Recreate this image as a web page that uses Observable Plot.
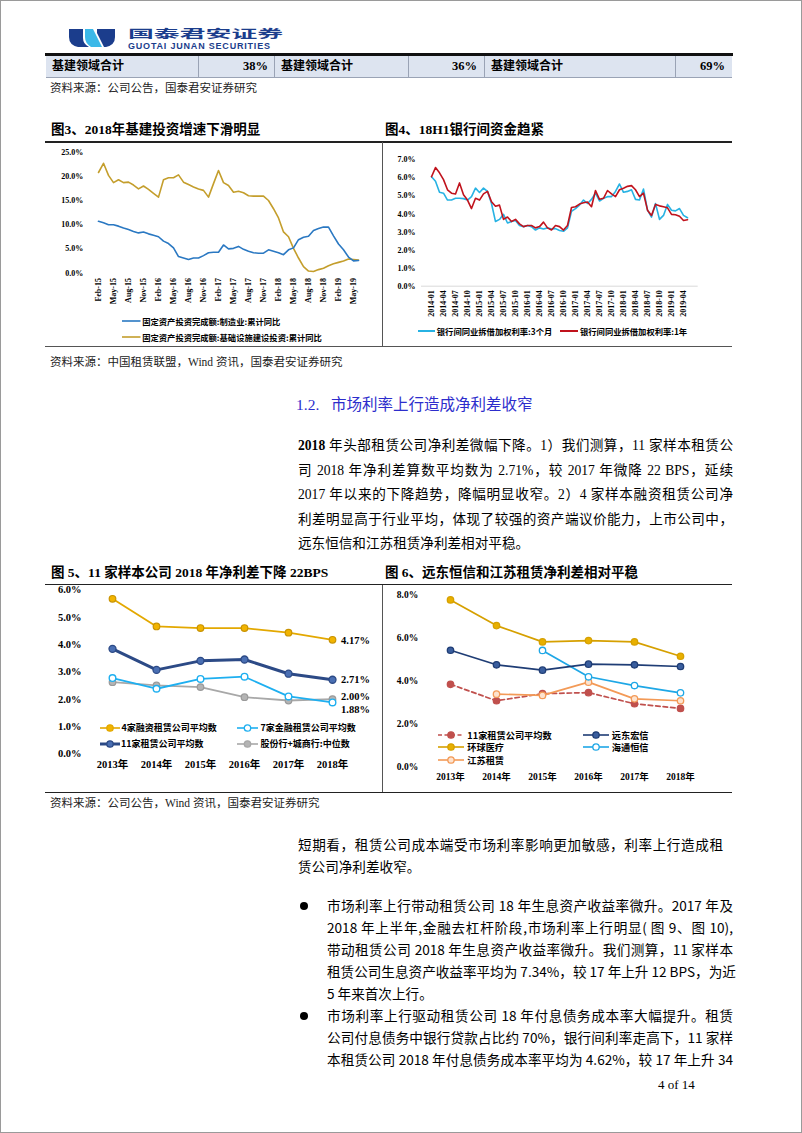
<!DOCTYPE html>
<html><head><meta charset="utf-8">
<script src="https://cdn.jsdelivr.net/npm/d3@7"></script>
<script src="https://cdn.jsdelivr.net/npm/@observablehq/plot@0.6"></script>
<style>
body{margin:0;background:#fff;}
#page{position:relative;width:802px;height:1133px;overflow:hidden;background:#fff;font-family:'Noto Sans CJK SC',sans-serif;color:#000;}
svg{overflow:visible}
</style></head><body><div id="page"></div>
<script>
// ---------------- DATA ----------------
const tableLabels = ["基建领域合计", "基建领域合计", "基建领域合计"];
const tableValues = ["38%", "36%", "69%"];

const c3Months = ["Feb-15","Mar-15","Apr-15","May-15","Jun-15","Jul-15","Aug-15","Sep-15","Oct-15","Nov-15","Dec-15","Jan-16","Feb-16","Mar-16","Apr-16","May-16","Jun-16","Jul-16","Aug-16","Sep-16","Oct-16","Nov-16","Dec-16","Jan-17","Feb-17","Mar-17","Apr-17","May-17","Jun-17","Jul-17","Aug-17","Sep-17","Oct-17","Nov-17","Dec-17","Jan-18","Feb-18","Mar-18","Apr-18","May-18","Jun-18","Jul-18","Aug-18","Sep-18","Oct-18","Nov-18","Dec-18","Jan-19","Feb-19","Mar-19","Apr-19","May-19","Jun-19"];
const c3Ticks = ["Feb-15","May-15","Aug-15","Nov-15","Feb-16","May-16","Aug-16","Nov-16","Feb-17","May-17","Aug-17","Nov-17","Feb-18","May-18","Aug-18","Nov-18","Feb-19","May-19"];
const c3Manufacturing = [10.7,10.4,10.0,10.0,9.7,9.3,9.0,8.6,8.3,8.5,8.1,7.8,7.5,6.6,6.1,5.2,3.4,3.1,2.8,3.1,3.1,3.6,4.2,4.3,4.3,5.8,5.0,5.1,5.5,4.9,4.5,4.2,4.1,4.1,4.8,4.5,4.2,3.8,4.8,5.2,6.9,7.4,7.6,8.8,9.2,9.5,9.5,7.7,6.0,4.8,3.3,2.5,2.6];
const c3Infrastructure = [20.8,22.7,20.2,18.7,19.3,18.7,18.8,18.2,17.4,18.0,17.3,16.5,15.7,19.3,19.7,19.7,20.3,18.8,18.3,17.8,17.4,17.1,15.7,18.5,21.2,18.7,18.1,16.7,16.9,16.6,16.0,15.9,15.9,15.9,15.0,13.3,11.4,8.5,7.5,5.1,3.1,1.3,0.4,0.3,0.7,1.0,1.5,1.9,2.2,2.5,2.9,2.8,2.7];
const c3Series = ["固定资产投资完成额:制造业:累计同比", "固定资产投资完成额:基础设施建设投资:累计同比"];

const c4Months = ["2014-01","2014-02","2014-03","2014-04","2014-05","2014-06","2014-07","2014-08","2014-09","2014-10","2014-11","2014-12","2015-01","2015-02","2015-03","2015-04","2015-05","2015-06","2015-07","2015-08","2015-09","2015-10","2015-11","2015-12","2016-01","2016-02","2016-03","2016-04","2016-05","2016-06","2016-07","2016-08","2016-09","2016-10","2016-11","2016-12","2017-01","2017-02","2017-03","2017-04","2017-05","2017-06","2017-07","2017-08","2017-09","2017-10","2017-11","2017-12","2018-01","2018-02","2018-03","2018-04","2018-05","2018-06","2018-07","2018-08","2018-09","2018-10","2018-11","2018-12","2019-01","2019-02","2019-03","2019-04","2019-05"];
const c4Ticks = ["2014-01","2014-04","2014-07","2014-10","2015-01","2015-04","2015-07","2015-10","2016-01","2016-04","2016-07","2016-10","2017-01","2017-04","2017-07","2017-10","2018-01","2018-04","2018-07","2018-10","2019-01","2019-04"];
const c4Rate3M = [6.06,5.81,5.2,5.15,4.77,4.77,4.87,4.87,4.85,4.77,4.96,5.43,5.19,5.43,5.25,4.58,3.58,3.7,3.98,3.5,3.58,3.64,3.36,3.3,3.36,3.3,3.11,3.23,3.17,3.23,3.17,3.19,3.08,3.04,3.23,4.15,4.3,4.49,4.77,4.58,4.81,5.15,4.72,4.87,4.96,4.96,5.25,5.66,5.2,5.25,5.34,4.81,4.77,5.38,4.21,3.83,4.58,3.7,3.92,4.53,4.21,4.17,4.3,3.92,3.79];
const c4Rate1Y = [6.06,6.57,6.28,5.9,5.34,5.15,5.11,5.72,5.06,4.77,4.3,4.87,4.77,5.11,5.25,4.68,4.43,4.49,3.7,3.83,3.58,3.7,3.45,3.3,3.36,3.36,3.23,3.3,3.55,3.23,3.11,3.36,3.3,3.11,3.36,4.36,4.4,4.55,4.62,4.66,4.4,5.3,4.81,4.87,5.3,5.11,4.96,5.34,5.43,5.53,5.57,5.34,4.96,5.15,4.21,3.92,4.53,4.45,4.4,4.34,3.98,3.96,3.87,3.64,3.68];
const c4Series = ["银行间同业拆借加权利率:3个月", "银行间同业拆借加权利率:1年"];

const years = ["2013年","2014年","2015年","2016年","2017年","2018年"];
const c5Financing4 = [5.67,4.66,4.60,4.60,4.43,4.17];
const c5Financial7 = [2.77,2.38,2.74,2.82,2.10,1.88];
const c5Average11 = [3.84,3.07,3.40,3.45,2.93,2.71];
const c5BankMedian = [2.62,2.50,2.44,2.07,1.95,2.00];
const c5Series = ["4家融资租赁公司平均数", "7家金融租赁公司平均数", "11家租赁公司平均数", "股份行+城商行:中位数"];

const c6Average11 = [3.84,3.07,3.40,3.45,2.93,2.71];
const c6FarEast = [5.43,4.75,4.50,4.78,4.75,4.67];
const c6Universal = [7.78,6.58,5.82,5.88,5.82,5.15];
const c6Haitong = [null,null,5.42,4.19,3.78,3.44];
const c6Jiangsu = [null,3.38,3.32,3.94,3.16,3.07];
const c6Series = ["11家租赁公司平均数", "远东宏信", "环球医疗", "海通恒信", "江苏租赁"];

// ---------------- HELPERS ----------------
const page = document.getElementById("page");
function el(tag, css, html) { const e = document.createElement(tag); e.style.cssText = css; if (html != null) e.innerHTML = html; page.appendChild(e); return e; }
function hline(x1, x2, y, w, c) { el("div", `position:absolute;left:${x1}px;top:${y - w/2}px;width:${x2 - x1}px;height:${w}px;background:${c}`); }
function vline(x, y1, y2, w, c) { el("div", `position:absolute;left:${x - w/2}px;top:${y1}px;width:${w}px;height:${y2 - y1}px;background:${c}`); }
function text(str, x, y, fs, css = "", lh = 1.3) { return el("div", `position:absolute;left:${x}px;top:${y - fs*lh/2}px;font-size:${fs}px;line-height:${fs*lh}px;white-space:nowrap;${css}`, str); }
function textR(str, xr, y, fs, css = "") { return el("div", `position:absolute;right:${802 - xr}px;top:${y - fs*0.65}px;font-size:${fs}px;line-height:${fs*1.3}px;white-space:nowrap;${css}`, str); }
function jline(str, x, y, w, fs, css = "") { return el("div", `position:absolute;left:${x}px;top:${y - fs*0.7}px;width:${w}px;font-size:${fs}px;line-height:${fs*1.4}px;white-space:nowrap;text-align:justify;text-align-last:justify;${css}`, str); }
function legend(x, y, color, label, o = {}) {
  const w = o.width || 20, fs = o.fs || 9, lw = o.lw || 1.6;
  const mk = o.marker ? `<circle cx="${w/2}" cy="7" r="3.2" fill="${o.fill}" stroke="${color}" stroke-width="1.3"/>` : "";
  const dash = o.dash ? `stroke-dasharray="${o.dash}"` : "";
  el("div", `position:absolute;left:${x}px;top:${y - 7}px;height:14px;display:flex;align-items:center;white-space:nowrap`,
    `<svg width="${w}" height="14" style="display:block"><line x1="0" x2="${w}" y1="7" y2="7" stroke="${color}" stroke-width="${lw}" ${dash}/>${mk}</svg><span style="margin-left:${o.gap ?? 2}px;font-size:${fs}px;font-weight:bold;line-height:14px">${label}</span>`);
}
function place(svg, x, y) { const d = el("div", `position:absolute;left:${x}px;top:${y}px`); d.appendChild(svg); }
const axisFont = "'Liberation Serif', 'Noto Sans CJK SC', serif";
const pct1 = d => d.toFixed(1) + "%";

// ---------------- PAGE CHROME ----------------
el("div", "position:absolute;left:0;top:0;width:800px;height:1131px;border:1px solid #9a9a9a;pointer-events:none");
// logo
el("div", "position:absolute;left:69px;top:29px;width:46px;height:18px",
  `<svg width="46" height="18" viewBox="0 0 46 18" style="display:block"><path d="M0,0 H14 V9 Q14,15 20,18 H9 Q0,16 0,8 Z" fill="#1b3d8c"/><path d="M16,0 H24 L33,18 H22 Q16,14 16,8 Z" fill="#3bb8e8"/><path d="M28,0 H46 V8 Q46,16 37,18 H35 L28,4 Z" fill="#1b3d8c"/></svg>`);
text("国泰君安证券", 128, 33, 11, "font-weight:bold;color:#1b3d8c;transform:scaleX(2.35);transform-origin:left center", 1.0);
text("GUOTAI JUNAN SECURITIES", 128, 46.6, 9, "font-family:'Liberation Sans',sans-serif;font-weight:bold;color:#1b3d8c;letter-spacing:0.8px", 1.0);

// table row
el("div", "position:absolute;left:46px;top:55px;width:686px;height:22px;background:#dde4f0");
hline(45, 733, 54.5, 2.2, "#111");
hline(46, 732, 77.3, 1, "#9aa3b5");
[198.5, 274.7, 408.2, 484.4, 675.2].forEach(x => vline(x, 55.5, 77, 1, "#9aa3b5"));
const tLeft = [52, 281, 491], tRight = [268, 477, 725];
tableLabels.forEach((t, i) => text(t, tLeft[i], 66.5, 12, "font-weight:bold;font-family:'Liberation Serif','Noto Sans CJK SC'"));
tableValues.forEach((t, i) => textR(t, tRight[i], 66.5, 12.5, "font-weight:bold;font-family:'Liberation Serif'"));
text("资料来源：公司公告，国泰君安证券研究", 50, 88.5, 11.5, "color:#222;font-family:'Liberation Serif','Noto Sans CJK SC'");

// section 1 frame
text("图3、2018年基建投资增速下滑明显", 51, 130, 13.5, "font-weight:bold;font-family:'Liberation Serif','Noto Sans CJK SC'");
text("图4、18H1银行间资金趋紧", 385, 130, 13.5, "font-weight:bold;font-family:'Liberation Serif','Noto Sans CJK SC'");
hline(45, 732, 141.8, 1.6, "#222");
vline(382.5, 142, 346, 1, "#555");
hline(45, 732, 346, 1, "#555");
text("资料来源：中国租赁联盟，Wind 资讯，国泰君安证券研究", 50, 362.5, 11.5, "color:#222;font-family:'Liberation Serif','Noto Sans CJK SC'");

// ---------------- CHART 3 ----------------
const c3Rows = c3Months.flatMap((m, i) => [
  {month: m, value: c3Manufacturing[i], series: c3Series[0]},
  {month: m, value: c3Infrastructure[i], series: c3Series[1]}
]);
const c3 = Plot.plot({
  width: 335, height: 200,
  marginLeft: 46.7, marginRight: 16.1, marginTop: 6.7, marginBottom: 72.5,
  style: {fontFamily: axisFont, fontSize: "8px", fontWeight: "bold", color: "#000", background: "transparent", overflow: "visible"},
  x: {type: "point", domain: c3Months, padding: 0, label: null, tickSize: 0, tickPadding: 5, tickRotate: -90, tickFormat: d => c3Ticks.includes(d) ? d : ""},
  y: {domain: [0, 25], ticks: [0, 5, 10, 15, 20, 25], tickFormat: pct1, tickSize: 0, tickPadding: 9, label: null},
  marks: [
    Plot.line(c3Rows.filter(d => d.series === c3Series[1]), {x: "month", y: "value", stroke: "#c49e2c", strokeWidth: 1.6}),
    Plot.line(c3Rows.filter(d => d.series === c3Series[0]), {x: "month", y: "value", stroke: "#2a78c2", strokeWidth: 1.6})
  ]
});
place(c3, 45, 145);
legend(121.7, 320.7, "#2a78c2", c3Series[0], {width: 18.5, fs: 8.3, gap: 2});
legend(121.7, 336.7, "#c49e2c", c3Series[1], {width: 18.5, fs: 8.3, gap: 2});

// ---------------- CHART 4 ----------------
const c4Rows = c4Months.flatMap((m, i) => [
  {month: m, value: c4Rate3M[i], series: c4Series[0]},
  {month: m, value: c4Rate1Y[i], series: c4Series[1]}
]);
const c4 = Plot.plot({
  width: 340, height: 175,
  marginLeft: 38, marginRight: 25.3, marginTop: 14.3, marginBottom: 34.3,
  style: {fontFamily: axisFont, fontSize: "8px", fontWeight: "bold", color: "#000", background: "transparent", overflow: "visible"},
  x: {type: "point", domain: c4Months, padding: 0, label: null, tickSize: 0, tickPadding: 4, tickRotate: -90, tickFormat: d => c4Ticks.includes(d) ? d : ""},
  y: {domain: [0, 7], ticks: [0, 1, 2, 3, 4, 5, 6, 7], tickFormat: pct1, tickSize: 0, tickPadding: 6, label: null},
  marks: [
    Plot.ruleY([0], {stroke: "#d9d9d9"}),
    Plot.line(c4Rows.filter(d => d.series === c4Series[0]), {x: "month", y: "value", stroke: "#27b2e3", strokeWidth: 1.6}),
    Plot.line(c4Rows.filter(d => d.series === c4Series[1]), {x: "month", y: "value", stroke: "#c0121c", strokeWidth: 1.6})
  ]
});
place(c4, 383, 145);
legend(418.3, 331, "#27b2e3", c4Series[0], {width: 17, fs: 8.3, gap: 1.5, lw: 2});
legend(560, 331, "#c0121c", c4Series[1], {width: 18, fs: 8.3, gap: 2, lw: 2});

// ---------------- SECTION HEADING & PARAGRAPH ----------------
const serifCJK = "font-family:'Liberation Serif','Noto Sans CJK SC';";
text("1.2.&nbsp;&nbsp;&nbsp;市场利率上行造成净利差收窄", 296, 405, 15.5, serifCJK + "color:#2d2dcc");
const p1 = [
  "<b>2018</b> 年头部租赁公司净利差微幅下降。1）我们测算，11 家样本租赁公",
  "司 2018 年净利差算数平均数为 2.71%，较 2017 年微降 22 BPS，延续",
  "2017 年以来的下降趋势，降幅明显收窄。2）4 家样本融资租赁公司净",
  "利差明显高于行业平均，体现了较强的资产端议价能力，上市公司中，"
];
const p1y = [446, 470.5, 495, 519.5, 544];
p1.forEach((s, i) => jline(s, 298, p1y[i], 435, 13.6, serifCJK));
text("远东恒信和江苏租赁净利差相对平稳。", 298, p1y[4], 13.6, serifCJK);

// section 2 frame
text("图 5、11 家样本公司 2018 年净利差下降 22BPS", 51, 573, 13.5, "font-weight:bold;font-family:'Liberation Serif','Noto Sans CJK SC'");
text("图 6、远东恒信和江苏租赁净利差相对平稳", 385, 573, 13.5, "font-weight:bold;font-family:'Liberation Serif','Noto Sans CJK SC'");
hline(45, 732, 584.5, 1.6, "#222");
vline(382.5, 585, 792, 1, "#555");
hline(45, 732, 792.5, 1.4, "#222");
text("资料来源：公司公告，Wind 资讯，国泰君安证券研究", 50, 803.5, 11.5, "color:#222;font-family:'Liberation Serif','Noto Sans CJK SC'");

// ---------------- CHART 5 ----------------
const c5Rows = years.flatMap((y, i) => [
  {year: y, value: c5Financing4[i], series: c5Series[0]},
  {year: y, value: c5Financial7[i], series: c5Series[1]},
  {year: y, value: c5Average11[i], series: c5Series[2]},
  {year: y, value: c5BankMedian[i], series: c5Series[3]}
]);
const s5 = k => c5Rows.filter(d => d.series === c5Series[k]);
const last5 = k => s5(k).slice(-1);
const c5 = Plot.plot({
  width: 333, height: 200,
  marginLeft: 65, marginRight: 44.7, marginTop: 4.3, marginBottom: 31.7,
  style: {fontFamily: axisFont, fontSize: "10.5px", fontWeight: "bold", color: "#000", background: "transparent", overflow: "visible"},
  x: {type: "point", domain: years, padding: 0, label: null, tickSize: 0, tickPadding: 6.5},
  y: {domain: [0, 6], ticks: [0, 1, 2, 3, 4, 5, 6], tickFormat: pct1, tickSize: 0, tickPadding: 29, label: null},
  marks: [
    Plot.line(s5(3), {x: "year", y: "value", stroke: "#a8a8a8", strokeWidth: 1.8}),
    Plot.dot(s5(3), {x: "year", y: "value", r: 3.3, fill: "#b4b4b4", stroke: "#9a9a9a", strokeWidth: 1.2}),
    Plot.line(s5(1), {x: "year", y: "value", stroke: "#1eaff0", strokeWidth: 1.8}),
    Plot.dot(s5(1), {x: "year", y: "value", r: 3.3, fill: "#fff", stroke: "#1eaff0", strokeWidth: 1.4}),
    Plot.line(s5(2), {x: "year", y: "value", stroke: "#2c4a86", strokeWidth: 3}),
    Plot.dot(s5(2), {x: "year", y: "value", r: 3.5, fill: "#4a6fb3", stroke: "#2c4a86", strokeWidth: 1.3}),
    Plot.line(s5(0), {x: "year", y: "value", stroke: "#e3a800", strokeWidth: 1.8}),
    Plot.dot(s5(0), {x: "year", y: "value", r: 3.3, fill: "#f2b400", stroke: "#c99300", strokeWidth: 1.2}),
    Plot.text(last5(0), {x: "year", y: "value", text: d => d.value.toFixed(2) + "%", dx: 8.5, dy: 1, textAnchor: "start", fontSize: 10.5}),
    Plot.text(last5(2), {x: "year", y: "value", text: d => d.value.toFixed(2) + "%", dx: 8.5, dy: 0, textAnchor: "start", fontSize: 10.5}),
    Plot.text(last5(3), {x: "year", y: "value", text: d => d.value.toFixed(2) + "%", dx: 8.5, dy: -3, textAnchor: "start", fontSize: 10.5}),
    Plot.text(last5(1), {x: "year", y: "value", text: d => d.value.toFixed(2) + "%", dx: 8.5, dy: 7, textAnchor: "start", fontSize: 10.5})
  ]
});
place(c5, 45, 585);
legend(100, 728.3, "#e3a800", c5Series[0], {width: 20, fs: 9, gap: 1.5, marker: true, fill: "#f2b400"});
legend(237, 728.3, "#1eaff0", c5Series[1], {width: 21, fs: 9, gap: 2.5, marker: true, fill: "#fff"});
legend(100, 743.7, "#2c4a86", c5Series[2], {width: 20, fs: 9, gap: 1, marker: true, fill: "#4a6fb3", lw: 3});
legend(237, 743.7, "#a8a8a8", c5Series[3], {width: 21, fs: 9, gap: 2.5, marker: true, fill: "#b4b4b4"});

// ---------------- CHART 6 ----------------
const c6Rows = years.flatMap((y, i) => [
  {year: y, value: c6Average11[i], series: c6Series[0]},
  {year: y, value: c6FarEast[i], series: c6Series[1]},
  {year: y, value: c6Universal[i], series: c6Series[2]},
  {year: y, value: c6Haitong[i], series: c6Series[3]},
  {year: y, value: c6Jiangsu[i], series: c6Series[4]}
]).filter(d => d.value != null);
const s6 = k => c6Rows.filter(d => d.series === c6Series[k]);
const c6Colors = ["#c0504d", "#1f3d75", "#d6a000", "#1ea7e6", "#f39a57"];
const c6Fills = ["#c0504d", "#3a5e9e", "#e8b000", "#fff", "#fde3cf"];
const c6 = Plot.plot({
  width: 340, height: 200,
  marginLeft: 65.3, marginRight: 41.3, marginTop: 9.7, marginBottom: 19,
  style: {fontFamily: axisFont, fontSize: "9.5px", fontWeight: "bold", color: "#000", background: "transparent", overflow: "visible"},
  x: {type: "point", domain: years, padding: 0, label: null, tickSize: 0, tickPadding: 7},
  y: {domain: [0, 8], ticks: [0, 2, 4, 6, 8], tickFormat: pct1, tickSize: 0, tickPadding: 30.6, label: null},
  marks: [
    ...[0, 4, 3, 1, 2].flatMap(k => [
      Plot.line(s6(k), {x: "year", y: "value", stroke: c6Colors[k], strokeWidth: 1.7, strokeDasharray: k === 0 ? "4.5,3" : null}),
      Plot.dot(s6(k), {x: "year", y: "value", r: 3.2, fill: c6Fills[k], stroke: c6Colors[k], strokeWidth: 1.3})
    ])
  ]
});
place(c6, 383, 585);
legend(438.3, 734.7, c6Colors[0], c6Series[0], {width: 26, fs: 9.2, gap: 3, marker: true, fill: c6Fills[0], dash: "4,2.5"});
legend(583.3, 734.7, c6Colors[1], c6Series[1], {width: 26, fs: 9.2, gap: 2.5, marker: true, fill: c6Fills[1]});
legend(438.3, 747.3, c6Colors[2], c6Series[2], {width: 26, fs: 9.2, gap: 3, marker: true, fill: c6Fills[2]});
legend(583.3, 747.3, c6Colors[3], c6Series[3], {width: 26, fs: 9.2, gap: 2.5, marker: true, fill: c6Fills[3]});
legend(438.3, 760, c6Colors[4], c6Series[4], {width: 26, fs: 9.2, gap: 3, marker: true, fill: c6Fills[4]});

// ---------------- BODY TEXT ----------------
jline("短期看，租赁公司成本端受市场利率影响更加敏感，利率上行造成租", 298, 846, 425, 13.6, serifCJK);
text("赁公司净利差收窄。", 298, 868, 13.6, serifCJK);

const b1 = [
  "市场利率上行带动租赁公司 18 年生息资产收益率微升。2017 年及",
  "2018 年上半年,金融去杠杆阶段,市场利率上行明显( 图 9、图 10),",
  "带动租赁公司 2018 年生息资产收益率微升。我们测算，11 家样本",
  "租赁公司生息资产收益率平均为 7.34%，较 17 年上升 12 BPS，为近"
];
const b1y = [906, 928, 950, 972, 994];
b1.forEach((s, i) => jline(s, 327, b1y[i], 406, 13.6));
text("5 年来首次上行。", 327, b1y[4], 13.6);
const b2 = [
  "市场利率上行驱动租赁公司 18 年付息债务成本率大幅提升。租赁",
  "公司付息债务中银行贷款占比约 70%，银行间利率走高下，11 家样",
  "本租赁公司 2018 年付息债务成本率平均为 4.62%，较 17 年上升 34"
];
const b2y = [1016, 1038, 1060];
b2.forEach((s, i) => jline(s, 327, b2y[i], 406, 13.6));
[b1y[0], b2y[0]].forEach(y => el("div", `position:absolute;left:299.5px;top:${y - 4}px;width:8px;height:8px;border-radius:50%;background:#000`));

text("4 of 14", 658, 1085.5, 13, "font-family:'Liberation Serif'");
</script></body></html>
